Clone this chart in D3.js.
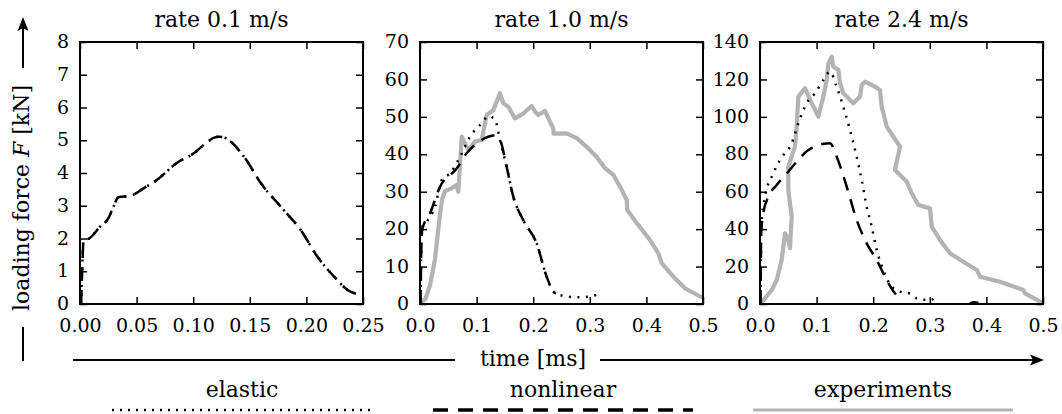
<!DOCTYPE html>
<html>
<head>
<meta charset="utf-8">
<script src="https://cdn.jsdelivr.net/npm/d3@7"></script>
<style>
body { margin: 0; background: #fff; }
text { font-family: "DejaVu Serif", serif; fill: #000; }
</style>
</head>
<body>
<script>
// panel setup
const titles = ["rate 0.1 m/s", "rate 1.0 m/s", "rate 2.4 m/s"];
const xMax = [0.25, 0.5, 0.5];
const yMax = [8, 70, 140];
const xTicks01 = [0, 0.05, 0.10, 0.15, 0.20, 0.25];
const xTicks = [0, 0.1, 0.2, 0.3, 0.4, 0.5];
const yTicks01 = [0, 1, 2, 3, 4, 5, 6, 7, 8];
const yTicks10 = [0, 10, 20, 30, 40, 50, 60, 70];
const yTicks24 = [0, 20, 40, 60, 80, 100, 120, 140];
const legendLabels = ["elastic", "nonlinear", "experiments"];

// rate 0.1 m/s (elastic and nonlinear lie on top of each other)
const elastic01 = [[0.001,0],[0.0015,0.6],[0.002,1.1],[0.0025,1.6],[0.003,1.95],[0.008,2.0],[0.0177,2.36],
  [0.0251,2.62],[0.0295,2.97],[0.034,3.26],[0.0443,3.3],[0.0561,3.53],[0.068,3.79],[0.0857,4.31],
  [0.1005,4.6],[0.1137,4.98],[0.118,5.07],[0.1226,5.11],[0.127,5.09],[0.133,4.96],[0.1448,4.5],
  [0.16,3.68],[0.18,2.87],[0.195,2.26],[0.2098,1.44],[0.2246,0.83],[0.2364,0.43],[0.25,0.27]];
const nonlinear01 = elastic01;

// rate 1.0 m/s
const elastic10 = [[0.001,0],[0.002,12],[0.004,20.6],[0.0118,22.0],[0.0265,26],[0.0383,33.1],[0.053,34.9],
  [0.0707,39.3],[0.0883,44.7],[0.109,48.3],[0.1207,50.2],[0.1325,49.3],[0.1413,43.8],[0.153,36.7],
  [0.1648,28.7],[0.1825,22.4],[0.2061,16.2],[0.2238,7.3],[0.2356,3.3],[0.2473,2.4],[0.2768,1.8],
  [0.3004,2.0],[0.318,2.9]];
const nonlinear10 = [[0.001,0],[0.002,12],[0.004,20],[0.0177,24.2],[0.0353,31.3],[0.0648,36.2],[0.0825,40.3],
  [0.1002,42.9],[0.1148,44.3],[0.13,45],[0.1413,43.8],[0.153,36.7],[0.1648,28.7],[0.1825,22.4],
  [0.2061,16.2],[0.2238,7.3],[0.2356,3.3],[0.24,2.8]];
const experiments10 = [[0,0],[0.01,1.5],[0.0177,5],[0.0265,12],[0.0353,24],[0.039,28],[0.0442,30.2],
  [0.056,30.9],[0.0648,31.8],[0.0677,30.0],[0.0737,44.7],[0.0854,41.1],[0.0972,43.4],[0.109,43.8],
  [0.1178,50.5],[0.1295,51.8],[0.1413,56.3],[0.1472,53.6],[0.156,52.7],[0.1678,49.6],[0.1826,50.9],
  [0.1973,52.9],[0.2032,51.4],[0.209,50.5],[0.2208,51.6],[0.2297,48.7],[0.2356,46.9],[0.236,45.5],
  [0.2592,45.6],[0.2769,44.3],[0.2945,42.0],[0.3122,39.3],[0.3269,36.3],[0.3416,34.5],[0.3564,30.5],
  [0.3652,27.8],[0.366,25.2],[0.3829,21.6],[0.4064,17.1],[0.4211,13.5],[0.427,10.9],[0.4476,7.3],
  [0.4682,4.2],[0.4947,2.0],[0.5,1.8]];

// rate 2.4 m/s
const elastic24 = [[0.001,0],[0.0015,20],[0.0025,43.1],[0.0088,57.3],[0.0236,69.8],[0.0353,77],[0.056,85.9],
  [0.0677,96.6],[0.0825,107.3],[0.0972,112.6],[0.1119,119.7],[0.1237,124.1],[0.1355,116.1],
  [0.1472,105.4],[0.159,93],[0.1708,78.7],[0.1797,66.3],[0.1885,52],[0.1974,41.3],[0.2062,28.9],
  [0.2179,18.2],[0.2327,9.2],[0.2474,6.6],[0.265,5.5],[0.2768,3.0],[0.3004,2.1],[0.312,4.3]];
const nonlinear24 = [[0.001,0],[0.0015,20],[0.002,37.8],[0.0059,48.5],[0.0147,57.3],[0.0295,63.6],[0.05,70.7],
  [0.0648,76],[0.0854,82.3],[0.0972,84.1],[0.11,85.5],[0.1237,85.9],[0.1355,78.7],[0.1532,62.7],
  [0.1708,44.9],[0.1885,32.4],[0.2062,23.5],[0.2239,12.8],[0.2385,5.7],[0.241,4.8]];
const nonlinearTail24 = [[0.371,0.3],[0.378,0.9],[0.386,0.6]];
const experiments24 = [[0.001,0],[0.0206,7.5],[0.0295,12.8],[0.0383,23.5],[0.0442,37.8],[0.05,34.2],
  [0.053,29.8],[0.056,46.7],[0.05,60.9],[0.05,73.4],[0.0618,84.1],[0.0648,94.8],[0.0677,110.8],
  [0.0795,115.3],[0.0913,107.3],[0.103,100.1],[0.1119,110.8],[0.1178,119.7],[0.1207,128.6],
  [0.1267,132.2],[0.1295,126.8],[0.1384,125.1],[0.1413,118],[0.1472,112.6],[0.1649,107.3],
  [0.1767,110.8],[0.1797,117],[0.1855,118.8],[0.2032,116.1],[0.212,114.4],[0.215,105.4],
  [0.2239,94.8],[0.2355,89.4],[0.2474,84.1],[0.2385,71.6],[0.2504,68.0],[0.2592,65.4],[0.268,59.2],
  [0.2797,52.9],[0.3004,51.1],[0.3034,41.3],[0.318,34.2],[0.3357,27.1],[0.3592,22.6],[0.383,18.2],
  [0.3887,14.6],[0.424,11.9],[0.4653,7.5],[0.4682,5.7],[0.5,0.4]];

const xTickSets = [xTicks01, xTicks, xTicks];
const yTickSets = [yTicks01, yTicks10, yTicks24];
const elasticSets = [elastic01, elastic10, elastic24];
const nonlinearSets = [nonlinear01, nonlinear10, nonlinear24];
const experimentSets = [[], experiments10, experiments24];

let canvas = d3.select("body")
            .append("svg")
            .attr("width", 1062)
            .attr("height", 414);

const lefts = [80, 420, 760];
const pw = 283, plotTop = 42, plotBottom = 304;
const grey = "#b3b3b3";
const dotDash = "2,6.5", longDash = "14,9";

let drawPanel = (i) => {
    let x = d3.scaleLinear().domain([0, xMax[i]]).range([lefts[i], lefts[i] + pw]);
    let y = d3.scaleLinear().domain([0, yMax[i]]).range([plotBottom, plotTop]);
    let g = canvas.append("g");

    g.append("clipPath").attr("id", "clip" + i)
        .append("rect")
        .attr("x", lefts[i]).attr("y", plotTop)
        .attr("width", pw).attr("height", plotBottom - plotTop);

    let smooth = d3.line().x(d => x(d[0])).y(d => y(d[1])).curve(d3.curveMonotoneX);
    let rough = d3.line().x(d => x(d[0])).y(d => y(d[1]));
    let plot = g.append("g").attr("clip-path", "url(#clip" + i + ")");

    if (experimentSets[i].length) {
        plot.append("path").attr("d", rough(experimentSets[i]))
            .attr("fill", "none").attr("stroke", grey)
            .attr("stroke-width", 4.2).attr("stroke-linejoin", "round");
    }
    plot.append("path").attr("d", smooth(nonlinearSets[i]))
        .attr("fill", "none").attr("stroke", "#000")
        .attr("stroke-width", 2.5).attr("stroke-dasharray", longDash);
    if (i == 2) {
        plot.append("path").attr("d", smooth(nonlinearTail24))
            .attr("fill", "none").attr("stroke", "#000").attr("stroke-width", 2.5);
    }
    plot.append("path").attr("d", smooth(elasticSets[i]))
        .attr("fill", "none").attr("stroke", "#000")
        .attr("stroke-width", 2.5).attr("stroke-dasharray", dotDash);

    // ticks pointing inwards on all four sides
    let fmt = i == 0 ? d3.format(".2f") : d3.format(".1f");
    let xb = g.append("g").attr("transform", "translate(0," + plotBottom + ")")
        .call(d3.axisBottom(x).tickValues(xTickSets[i]).tickSize(-7).tickFormat(fmt));
    xb.selectAll("text").attr("dy", null).attr("y", 28);
    g.append("g").attr("transform", "translate(0," + plotTop + ")")
        .call(d3.axisTop(x).tickValues(xTickSets[i]).tickSize(-7).tickFormat(""));
    let yl = g.append("g").attr("transform", "translate(" + lefts[i] + ",0)")
        .call(d3.axisLeft(y).tickValues(yTickSets[i]).tickSize(-7).tickPadding(11));
    yl.selectAll("text").attr("dy", "0.3em");
    g.append("g").attr("transform", "translate(" + (lefts[i] + pw) + ",0)")
        .call(d3.axisRight(y).tickValues(yTickSets[i]).tickSize(-7).tickFormat(""));

    g.selectAll(".domain").remove();
    g.selectAll(".tick line").attr("stroke", "#000").attr("stroke-width", 1.5);
    g.selectAll(".tick text").style("font-size", "19px").style("font-family", "DejaVu Serif");

    g.append("rect")
        .attr("x", lefts[i]).attr("y", plotTop)
        .attr("width", pw).attr("height", plotBottom - plotTop)
        .attr("fill", "none").attr("stroke", "#000").attr("stroke-width", 2);

    g.append("text")
        .attr("x", lefts[i] + pw / 2).attr("y", 27)
        .attr("text-anchor", "middle")
        .style("font-size", "22px")
        .text(titles[i]);
};

[0, 1, 2].forEach(drawPanel);

let strLine = (x1, y1, x2, y2) => {
    canvas.append("line")
        .attr("x1", x1).attr("y1", y1)
        .attr("x2", x2).attr("y2", y2)
        .attr("stroke", "#000").attr("stroke-width", 2);
};

// y axis label with arrow
strLine(23, 361, 23, 327);
strLine(23, 68, 23, 28);
canvas.append("path").attr("d", "M23,17 L17.5,31 L23,28 L28.5,31 Z").attr("fill", "#000");
let ylab = canvas.append("text")
    .attr("transform", "translate(29,198) rotate(-90)")
    .attr("text-anchor", "middle")
    .style("font-size", "22px");
ylab.append("tspan").text("loading force ");
ylab.append("tspan").attr("font-style", "italic").text("F");
ylab.append("tspan").text(" [kN]");

// x axis label with arrow
strLine(73, 360, 455, 360);
strLine(600, 360, 1034, 360);
canvas.append("path").attr("d", "M1044,360 L1030,354.5 L1033,360 L1030,365.5 Z").attr("fill", "#000");
canvas.append("text")
    .attr("x", 533).attr("y", 366)
    .attr("text-anchor", "middle")
    .style("font-size", "22px")
    .text("time [ms]");

// legend
const legendX = [112, 433, 753];
const legendW = 260;
legendLabels.forEach((lab, k) => {
    canvas.append("text")
        .attr("x", legendX[k] + legendW / 2).attr("y", 397)
        .attr("text-anchor", "middle")
        .style("font-size", "22px")
        .text(lab);
    let l = canvas.append("line")
        .attr("x1", legendX[k]).attr("y1", 410)
        .attr("x2", legendX[k] + legendW).attr("y2", 410);
    if (k == 0) l.attr("stroke", "#000").attr("stroke-width", 2.5).attr("stroke-dasharray", "2,6");
    if (k == 1) l.attr("stroke", "#000").attr("stroke-width", 3.5).attr("stroke-dasharray", "15,10");
    if (k == 2) l.attr("stroke", grey).attr("stroke-width", 3);
});
</script>
</body>
</html>
